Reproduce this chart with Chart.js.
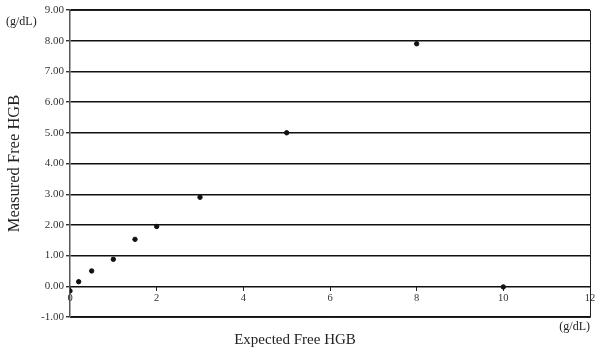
<!DOCTYPE html>
<html>
<head>
<meta charset="utf-8">
<script src="https://cdn.jsdelivr.net/npm/chart.js@4/dist/chart.umd.min.js"></script>
<style>
  html, body { margin: 0; padding: 0; background: #fff; }
  #wrap { position: relative; width: 597px; height: 355px; }
</style>
</head>
<body>
<div id="wrap"><canvas id="chart"></canvas></div>
<script>
// expected vs measured free HGB (g/dL)
const expected = [0, 0.2, 0.5, 1, 1.5, 2, 3, 5, 8, 10];
const measured = [-0.15, 0.15, 0.5, 0.88, 1.53, 1.95, 2.9, 5.0, 7.9, -0.02];
const xTicks = [0, 2, 4, 6, 8, 10, 12];
const yTicks = [-1, 0, 1, 2, 3, 4, 5, 6, 7, 8, 9];

const serif = "'Liberation Serif', 'DejaVu Serif', serif";

// frame + unit labels
const extras = {
  id: 'extras',
  afterDraw(chart) {
    const ctx = chart.ctx, a = chart.chartArea;
    ctx.save();
    ctx.strokeStyle = '#222';
    ctx.lineWidth = 1;
    ctx.beginPath();
    ctx.moveTo(a.left, a.top + 0.5);
    ctx.lineTo(a.right + 0.5, a.top + 0.5);
    ctx.lineTo(a.right + 0.5, a.bottom + 0.5);
    ctx.lineTo(a.left, a.bottom + 0.5);
    ctx.stroke();
    ctx.fillStyle = '#222';
    ctx.font = '12px ' + serif;
    ctx.textBaseline = 'middle';
    ctx.textAlign = 'left';
    ctx.fillText('(g/dL)', 6, 22);
    ctx.textAlign = 'right';
    ctx.fillText('(g/dL)', a.right, a.bottom + 10);
    ctx.restore();
  }
};

new Chart(document.getElementById('chart'), {
  type: 'scatter',
  data: {
    datasets: [{
      data: expected.map((x, i) => ({ x: x, y: measured[i] })),
      backgroundColor: '#111',
      borderColor: '#111',
      pointRadius: 2.2,
      pointHoverRadius: 2.2
    }]
  },
  options: {
    responsive: true,
    maintainAspectRatio: false,
    animation: false,
    layout: { padding: { top: 10, right: 7, bottom: 6, left: 0 } },
    plugins: {
      legend: { display: false },
      tooltip: { enabled: false },
      title: {
        display: true,
        position: 'bottom',
        text: 'Expected Free HGB',
        color: '#222',
        font: { family: serif, size: 15, weight: 'normal' },
        padding: { top: 14, bottom: 0 }
      }
    },
    scales: {
      x: {
        type: 'linear',
        position: { y: 0 },
        min: 0, max: 12,
        afterBuildTicks(scale) { scale.ticks = xTicks.map(v => ({ value: v })); },
        grid: { drawOnChartArea: false, drawTicks: true, tickLength: 5, color: '#222' },
        border: { display: false },
        ticks: {
          color: '#333',
          font: { family: serif, size: 10.5 },
          padding: 1,
          maxRotation: 0
        }
      },
      y: {
        min: -1, max: 9,
        afterBuildTicks(scale) { scale.ticks = yTicks.map(v => ({ value: v })); },
        afterFit(scale) { scale.width = 70; },
        grid: { color: '#111', lineWidth: 1.4, tickLength: 4, tickColor: '#333' },
        border: { display: true, color: '#555', width: 1.5 },
        ticks: {
          color: '#333',
          font: { family: serif, size: 11 },
          padding: 2,
          callback: v => v.toFixed(2)
        },
        title: {
          display: true,
          text: 'Measured Free HGB',
          color: '#222',
          font: { family: serif, size: 16.5, weight: 'normal' },
          padding: { top: 5, bottom: 4 }
        }
      }
    }
  },
  plugins: [extras]
});
</script>
</body>
</html>
